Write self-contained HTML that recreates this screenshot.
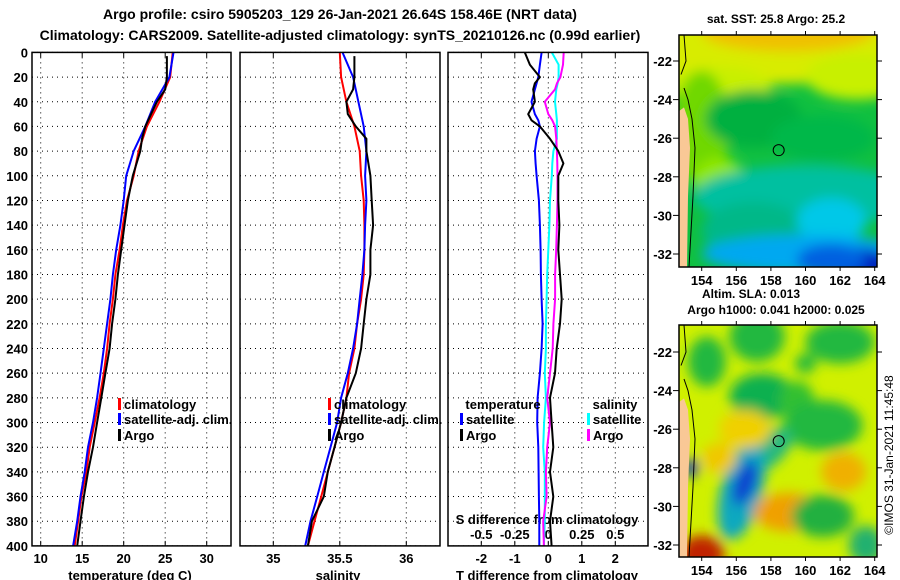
<!DOCTYPE html>
<html><head><meta charset="utf-8"><style>
html,body{margin:0;padding:0;background:#fff;}
svg{display:block;font-family:"Liberation Sans",sans-serif;font-weight:bold;}
</style></head><body>
<svg id="chart" width="900" height="580" viewBox="0 0 900 580" xmlns="http://www.w3.org/2000/svg">
<defs>
<filter id="blur6" x="-50%" y="-50%" width="200%" height="200%"><feGaussianBlur stdDeviation="6"/></filter>
<clipPath id="clipMap1"><rect x="679" y="35" width="198" height="232"/></clipPath>
<clipPath id="clipMap2"><rect x="679" y="325" width="198" height="232"/></clipPath>
</defs>
<text x="340" y="19" font-size="14" text-anchor="middle">Argo profile: csiro 5905203_129 26-Jan-2021 26.64S 158.46E (NRT data)</text>
<text x="340" y="40" font-size="14" text-anchor="middle">Climatology: CARS2009. Satellite-adjusted climatology: synTS_20210126.nc (0.99d earlier)</text>
<g id="panels"></g>
<g id="maps"></g>
</svg>
<script>
// ---- data (depth in m) ----
const depths = [0,20,40,60,80,100,120,140,160,180,200,220,240,260,280,300,320,340,360,380,400];
const tempClim = [25.9,25.6,24.3,22.8,21.8,21.2,20.4,19.9,19.5,19.0,18.7,18.3,18.0,17.6,17.1,16.5,15.9,15.5,14.9,14.5,14.1];
const tempSat = [26.0,25.5,23.8,22.6,21.2,20.3,20.0,19.6,19.1,18.7,18.4,18.0,17.6,17.2,16.8,16.3,15.7,15.3,14.8,14.4,13.9];
const argoDepths = [3,20,30,40,50,60,70,80,100,120,140,160,180,200,220,240,260,280,300,320,340,360,380,400];
const tempArgo = [25.2,25.2,25.0,24.0,23.3,22.6,22.2,22.0,21.1,20.5,20.1,19.7,19.3,19.0,18.6,18.3,17.8,17.3,16.8,16.3,15.7,15.2,14.8,14.4];
const salClim = [35.50,35.51,35.55,35.61,35.65,35.66,35.68,35.685,35.685,35.68,35.66,35.63,35.61,35.57,35.55,35.51,35.46,35.41,35.36,35.31,35.26];
const salSat = [35.52,35.60,35.64,35.68,35.70,35.69,35.70,35.69,35.685,35.67,35.65,35.63,35.60,35.56,35.51,35.48,35.43,35.38,35.33,35.28,35.24];
const salArgo = [35.61,35.61,35.60,35.55,35.56,35.62,35.70,35.70,35.73,35.74,35.75,35.73,35.73,35.70,35.68,35.66,35.62,35.55,35.51,35.46,35.41,35.38,35.29,35.26];
const diffDepths = [0,10,20,25,30,40,50,55,60,70,80,90,100,120,140,160,180,200,220,240,260,280,300,320,340,360,380,400];
const tDiffSat = [-0.2,-0.25,-0.3,-0.35,-0.4,-0.5,-0.4,-0.3,-0.25,-0.35,-0.4,-0.38,-0.35,-0.28,-0.25,-0.23,-0.22,-0.2,-0.17,-0.2,-0.25,-0.32,-0.33,-0.3,-0.29,-0.28,-0.27,-0.27];
const tDiffArgo = [-0.7,-0.55,-0.25,-0.4,-0.45,-0.4,-0.6,-0.5,-0.25,0.05,0.3,0.45,0.3,0.3,0.33,0.3,0.35,0.4,0.35,0.25,0.2,0.05,0.1,0.15,0.05,0.15,0.05,0.1];
const sDiffSat = [0.026,0.077,0.077,0.07,0.06,0.05,0.06,0.064,0.064,0.064,0.038,0.03,0.026,0.013,0.008,0,-0.008,-0.013,-0.018,-0.018,-0.026,-0.018,-0.031,-0.038,-0.026,-0.026,-0.026,-0.033];
const sDiffArgo = [0.115,0.11,0.09,0.065,0.05,-0.026,0.0,0.03,0.051,0.06,0.064,0.067,0.069,0.069,0.064,0.059,0.051,0.051,0.038,0.033,0.013,-0.008,0.013,-0.008,-0.018,-0.013,-0.038,-0.033];
const depthTicks = [0,20,40,60,80,100,120,140,160,180,200,220,240,260,280,300,320,340,360,380,400];
const tempTicks = [10,15,20,25,30];
const salTicks = [35,35.5,36];
const salTickLabels = ["35","35.5","36"];
const tDiffTicks = [-2,-1,0,1,2];
const sDiffTicks = [-0.5,-0.25,0,0.25,0.5];
const sDiffTickLabels = ["-0.5","-0.25","0","0.25","0.5"];
const lonTicks = [154,156,158,160,162,164];
const latTicks = [-22,-24,-26,-28,-30,-32];

const NS = "http://www.w3.org/2000/svg";
function mk(tag, attrs, parent){const e=document.createElementNS(NS,tag);for(const k in attrs)e.setAttribute(k,attrs[k]);(parent||document.getElementById('panels')).appendChild(e);return e;}
const Y0=52.4, Y1=545.9;
const yDepth = d => Y0 + d/400*(Y1-Y0);
const xTemp = t => 40.7 + (t-10)*8.3;
const xSal = s => 273.3 + (s-35)*133;
const xTD = t => 548.3 + t*33.5;
const xSD = s => 548.3 + s*134;
const panelBoxes = [[32,231],[240,440],[448,648]];

const P = document.getElementById('panels');
panelBoxes.forEach((b,i)=>{
  const g = mk('g',{},P);
  
  
  depthTicks.forEach(d=>{
    const gl=mk('line',{x1:b[0],x2:b[1],y1:yDepth(d),y2:yDepth(d),stroke:'#000','stroke-width':1,'stroke-dasharray':'1,4'},g);
    
    
  });
});
function vgrid(xs, fx){xs.forEach(v=>{const l=mk('line',{x1:fx(v),x2:fx(v),y1:Y0,y2:Y1,stroke:'#000','stroke-width':1,'stroke-dasharray':'1,4'},P);
  
  
  mk('line',{x1:fx(v),x2:fx(v),y1:Y0,y2:Y0+5,stroke:'#000'},P);mk('line',{x1:fx(v),x2:fx(v),y1:Y1,y2:Y1-5,stroke:'#000'},P);});}
vgrid(tempTicks,xTemp);vgrid(salTicks,xSal);vgrid(tDiffTicks,xTD);
depthTicks.forEach(d=>{const t=mk('text',{x:28,y:yDepth(d)+5,'font-size':13,'text-anchor':'end'},P);t.textContent=d;
  
  });
function xlabels(vals,labs,fx,y){vals.forEach((v,i)=>{const t=mk('text',{x:fx(v),y:y,'font-size':13,'text-anchor':'middle'},P);t.textContent=labs[i];
  
  });}
xlabels(tempTicks,tempTicks,xTemp,563);
xlabels(salTicks,salTickLabels,xSal,563);
xlabels(tDiffTicks,tDiffTicks,xTD,563);
xlabels(sDiffTicks,sDiffTickLabels,xSD,539);
function ttl(txt,x,y,name){const t=mk('text',{x:x,y:y,'font-size':13,'text-anchor':'middle'},P);t.textContent=txt;
  
  }
ttl('temperature (deg C)',130,580,'x-axis-title-temperature');
ttl('salinity',338,580,'x-axis-title-salinity');
ttl('T difference from climatology',547,580,'x-axis-title-t-difference');
ttl('S difference from climatology',547,524,'s-difference-axis-title');
function line(ys,xs,fy,fx,color,name,w){const pts=xs.map((v,i)=>fx(v).toFixed(1)+','+fy(ys[i]).toFixed(1)).join(' ');
  const p=mk('polyline',{points:pts,fill:'none',stroke:color,'stroke-width':w||2,'stroke-linejoin':'round'},P);
  
  }
line(depths,tempClim,yDepth,xTemp,'#ff0000','temp-climatology-line');
line(depths,tempSat,yDepth,xTemp,'#0000ff','temp-satellite-line');
line(argoDepths,tempArgo,yDepth,xTemp,'#000000','temp-argo-line');
line(depths,salClim,yDepth,xSal,'#ff0000','sal-climatology-line');
line(depths,salSat,yDepth,xSal,'#0000ff','sal-satellite-line');
line(argoDepths,salArgo,yDepth,xSal,'#000000','sal-argo-line');
line(diffDepths,sDiffSat,yDepth,xSD,'#00ffff','s-diff-satellite-line');
line(diffDepths,sDiffArgo,yDepth,xSD,'#ff00ff','s-diff-argo-line');
line(diffDepths,tDiffSat,yDepth,xTD,'#0000ff','t-diff-satellite-line');
line(diffDepths,tDiffArgo,yDepth,xTD,'#000000','t-diff-argo-line');
panelBoxes.forEach(b=>{const r=mk('rect',{x:b[0],y:Y0,width:b[1]-b[0],height:Y1-Y0,fill:'none',stroke:'#000','stroke-width':1.5},P);
  
  });
function leg(x,y,color,txt,name){mk('rect',{x:x,y:y-11,width:3,height:12,fill:color},P);const t=mk('text',{x:x+6,y:y,'font-size':13},P);t.textContent=txt;
  
  }
leg(118,409,'#ff0000','climatology','legend-climatology');
leg(118,424,'#0000ff','satellite-adj. clim.','legend-satellite');
leg(118,440,'#000000','Argo','legend-argo');
leg(328,409,'#ff0000','climatology','legend-climatology-2');
leg(328,424,'#0000ff','satellite-adj. clim.','legend-satellite-2');
leg(328,440,'#000000','Argo','legend-argo-2');
ttl('temperature',503,409,'legend-temperature-heading');
ttl('salinity',615,409,'legend-salinity-heading');
leg(460,424,'#0000ff','satellite','legend-t-satellite');
leg(460,440,'#000000','Argo','legend-t-argo');
leg(587,424,'#00ffff','satellite','legend-s-satellite');
leg(587,440,'#ff00ff','Argo','legend-s-argo');

// ---- maps ----
const M=document.getElementById('maps');
function lonX(l){return 701.7+(l-154)*17.3;}
function latY1(l){return 61+(-22-l)*19.3;}
function latY2(l){return 352+(-22-l)*19.3;}
function map(top,fy,clip,base,blobs,name){
  const g=mk('g',{'clip-path':'url(#'+clip+')'},M);
  
  
  mk('rect',{x:679,y:top,width:198,height:232,fill:base},g);
  const bg=mk('g',{filter:'url(#blur6)'},g);
  blobs.forEach(b=>mk('ellipse',{cx:lonX(b[0]),cy:fy(b[1]),rx:b[2]*17.3,ry:b[3]*19.3,fill:b[4],transform:b[5]?`rotate(${b[5]} ${lonX(b[0])} ${fy(b[1])})`:''},bg));
  mk('path',{d:`M679,${top+232} L687,${top+232} L688,${fy(-29)} L690,${fy(-26.5)} L688,${fy(-25)} L684,${fy(-24.4)} L679,${fy(-24.6)} Z`,fill:'#f9c896'},g);
  mk('path',{d:`M689,${top+232} L693,${fy(-29)} L695,${fy(-26.5)} L692,${fy(-25)} L688,${fy(-24)} L684,${fy(-23.4)}`,fill:'none',stroke:'#000','stroke-width':1},g);
  mk('path',{d:`M684,${top} L686,${fy(-22)} L681,${fy(-22.7)}`,fill:'none',stroke:'#000','stroke-width':1},g);
  mk('circle',{cx:lonX(158.45),cy:fy(-26.62),r:5.5,fill:'none',stroke:'#000','stroke-width':1},g);
  mk('rect',{x:679,y:top,width:198,height:232,fill:'none',stroke:'#000','stroke-width':1.5},M);
  lonTicks.forEach(l=>{mk('line',{x1:lonX(l),x2:lonX(l),y1:top,y2:top-4,stroke:'#000'},M);mk('line',{x1:lonX(l),x2:lonX(l),y1:top+232,y2:top+236,stroke:'#000'},M);
    const t=mk('text',{x:lonX(l),y:top+250,'font-size':13,'text-anchor':'middle'},M);t.textContent=l;
    
    });
  latTicks.forEach(l=>{mk('line',{x1:673,x2:679,y1:fy(l),y2:fy(l),stroke:'#000'},M);mk('line',{x1:877,x2:882,y1:fy(l),y2:fy(l),stroke:'#000'},M);
    const t=mk('text',{x:672,y:fy(l)+5,'font-size':13,'text-anchor':'end'},M);t.textContent=l;
    
    });
}
map(35,latY1,'clipMap1','#10c040',[
 [158,-20.8,12,2.4,'#d8ec00'],[159,-20.5,5,1.0,'#f0c000'],[163,-22.8,3,1.2,'#c8f000'],[155,-23.3,3,1.0,'#c8f000'],
 [154,-25.5,1.6,3,'#70d800'],[155,-28.2,1.5,1.2,'#90e800'],
 [157,-25,2.8,1.5,'#00b040'],[161,-26,3,1.2,'#00b848'],
 [160,-29,6.5,1.6,'#00c0a0'],[157,-30.8,3,1.5,'#00b888'],[161.5,-30.3,2,1.2,'#00c8e8'],
 [160,-32,6,1.0,'#00a8f0'],[163,-32.5,2,0.8,'#0020c0'],[161.5,-32.3,2,0.8,'#0060e0']
],'sst-map');
map(325,latY2,'clipMap2','#d0f000',[
 [154.3,-22.5,1.1,1.3,'#20b840'],[157.2,-21.2,1.6,1.3,'#20b840'],[162,-21.5,2,1.1,'#20b840'],
 [157.5,-24.3,1.9,1.2,'#10b050'],[159.5,-24.5,1,1,'#30c030'],[161,-25.8,2.3,1.3,'#20b840'],[160,-22.6,0.6,0.5,'#20b840'],
 [157.5,-27.2,2.0,0.9,'#20b880',-35],[156.3,-29.2,1.2,2.6,'#10a8c0',15],[156.5,-28.8,0.6,1.2,'#1040d0',20],
 [159,-30.3,2.0,1.0,'#f0a000'],[162.2,-28.2,1.3,1.0,'#f0b000'],[156.5,-26,1.5,1,'#f0d000'],[155,-27.5,1,0.8,'#f0c800'],
 [161,-30.5,1.8,1.1,'#20b040'],[163.5,-32,1.0,1.0,'#20b070'],[154,-32.5,1.3,1.0,'#c02000'],[153.4,-28,0.4,0.5,'#0030c0']
],'sla-map');
function mt(txt,x,y,name){const t=mk('text',{x:x,y:y,'font-size':12,'text-anchor':'middle'},M);t.textContent=txt;
  
  }
mt('sat. SST: 25.8 Argo: 25.2',776,23,'sst-map-title');
mt('Altim. SLA: 0.013',751,298,'sla-label');
mt('Argo h1000: 0.041 h2000: 0.025',776,314,'argo-height-label');
const c=mk('text',{x:0,y:0,'font-size':12,'font-weight':'normal','text-anchor':'middle',transform:'translate(893,455) rotate(-90)'},M);
c.textContent='©IMOS 31-Jan-2021 11:45:48';


</script>
</body></html>
